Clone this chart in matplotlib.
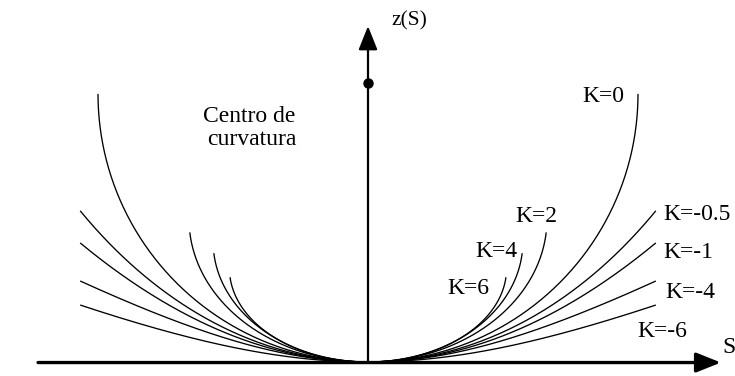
import numpy as np
import matplotlib.pyplot as plt
from matplotlib.patches import FancyArrowPatch

plt.rcParams['font.family'] = ['Liberation Serif', 'DejaVu Serif']

# conic constant of each profile and the end of the drawn arc (units of the K=0 radius)
k_values = [0, 2, 4, 6, -0.5, -1, -4, -6]
k_labels = ['K=0', 'K=2', 'K=4', 'K=6', 'K=-0.5', 'K=-1', 'K=-4', 'K=-6']
s_end = [1.0, 0.660, 0.571, 0.511, 1.066, 1.066, 1.066, 1.066]
z_end = [0.993, 0.480, 0.403, 0.314, 0.560, 0.441, 0.300, 0.211]

# label anchor (x, y, ha) for each K
label_pos = [(0.870, 0.964, 'center'), (0.544, 0.520, 'left'), (0.396, 0.390, 'left'),
             (0.293, 0.252, 'left'), (1.093, 0.526, 'left'), (1.093, 0.384, 'left'),
             (1.100, 0.236, 'left'), (0.996, 0.094, 'left')]

px = 270.0
fig = plt.figure(figsize=(7.35, 3.76), dpi=100)
ax = fig.add_axes([0, 0, 1, 1])
ax.set_xlim(-368 / px, 367 / px)
ax.set_ylim(-14 / px, 362 / px)
ax.axis('off')

for K, s1, z1 in zip(k_values, s_end, z_end):
    if K > 0:
        # ellipse arc, stopped a little before its widest point
        tm = 0.47 * np.pi
        t = np.linspace(-tm, tm, 400)
        s = s1 / np.sin(tm) * np.sin(t)
        z = z1 / (1 - np.cos(tm)) * (1 - np.cos(t))
    elif K == 0:
        t = np.linspace(-np.pi / 2, np.pi / 2, 400)
        s = s1 * np.sin(t)
        z = z1 * (1 - np.cos(t))
    else:
        # hyperbola sag through the end point
        R = (s1 ** 2 + (1 + K) * z1 ** 2) / (2 * z1)
        s = np.linspace(-s1, s1, 400)
        z = s ** 2 / (R * (1 + np.sqrt(1 - (1 + K) * s ** 2 / R ** 2)))
    ax.plot(s, z, color='black', lw=0.95, solid_capstyle='butt')

for lab, (x, y, ha) in zip(k_labels, label_pos):
    ax.text(x, y, lab, fontsize=17, ha=ha, va='baseline')

# axes with arrow heads
h_arrow = FancyArrowPatch((-1.222, -0.002), (1.307, -0.002), shrinkA=0, shrinkB=0,
                          arrowstyle='-|>,head_length=1.5,head_width=0.6',
                          mutation_scale=10, lw=2.4, color='black')
v_arrow = FancyArrowPatch((0, -0.004), (0, 1.244), shrinkA=0, shrinkB=0,
                          arrowstyle='-|>,head_length=1.45,head_width=0.58',
                          mutation_scale=10, lw=1.6, color='black')
ax.add_patch(h_arrow)
ax.add_patch(v_arrow)

# centre of curvature
ax.plot([0], [(362 - 83) / px], 'o', color='black', ms=6.5)

ax.text(0.088, 1.248, 'z(S)', fontsize=15.5, ha='left', va='baseline')
ax.text(1.311, 0.032, 'S', fontsize=17, ha='left', va='baseline')
ax.text(-0.441, 0.890, 'Centro de', fontsize=17, ha='center', va='baseline')
ax.text(-0.430, 0.804, 'curvatura', fontsize=17, ha='center', va='baseline')

fig.savefig('out.png', dpi=100)
